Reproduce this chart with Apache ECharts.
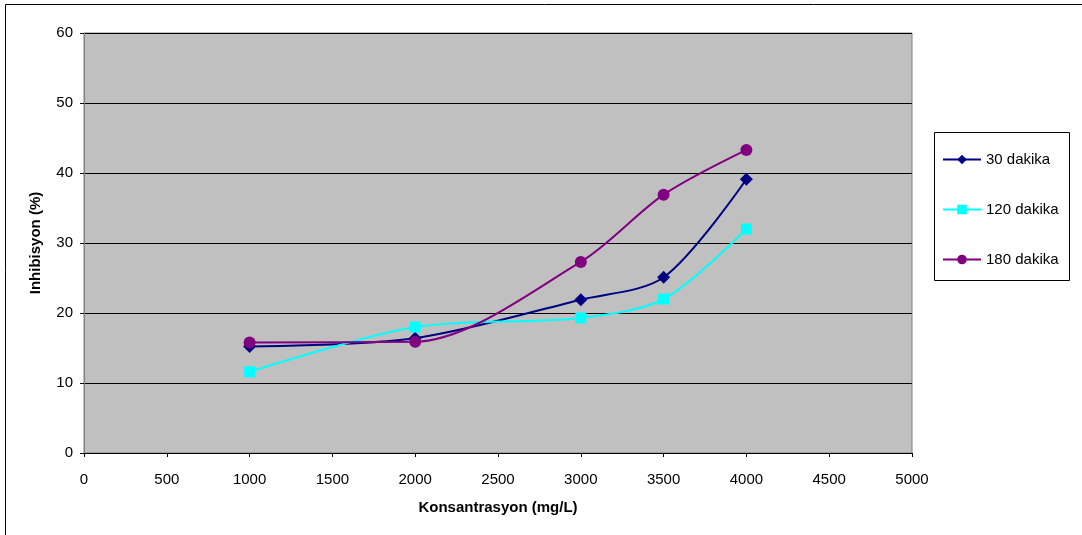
<!DOCTYPE html>
<html><head><meta charset="utf-8">
<script src="https://cdn.jsdelivr.net/npm/echarts@6/dist/echarts.min.js"></script>
<style>html,body{margin:0;padding:0;background:#fff}#c{width:1082px;height:535px}</style>
</head><body><div id="c"></div>
<script>
const xValues = [1000, 2000, 3000, 3500, 4000];
const s30 = [15.2, 16.4, 21.9, 25.1, 39.1];
const s120 = [11.6, 18.0, 19.3, 22.0, 32.0];
const s180 = [15.8, 15.9, 27.3, 36.9, 43.3];
const seriesNames = ['30 dakika', '120 dakika', '180 dakika'];
const xTitle = 'Konsantrasyon (mg/L)';
const yTitle = 'Inhibisyon (%)';

const chart = echarts.init(document.getElementById('c'));
const font = '"Liberation Sans", Arial, sans-serif';
function mk(name, data, color, symbol, size) {
  return {
    name, type: 'line', smooth: 0.3, data: xValues.map((x, i) => [x, data[i]]),
    symbol, symbolSize: size, showSymbol: true,
    lineStyle: { color, width: 2 }, itemStyle: { color },
    emphasis: { disabled: true }
  };
}
chart.setOption({
  animation: false,
  graphic: [{ type: 'rect', shape: { x: 5.5, y: 4.5, width: 1090, height: 540 }, style: { fill: 'none', stroke: '#000', lineWidth: 1 }, silent: true },
            { type: 'rect', shape: { x: 934.5, y: 132.5, width: 135, height: 148 }, style: { fill: '#fff', stroke: '#000', lineWidth: 1 }, silent: true, z: -1 }],
  grid: { left: 84, top: 33, width: 828, height: 420, show: true, backgroundColor: '#c0c0c0', borderColor: '#808080', borderWidth: 1 },
  legend: {
    orient: 'vertical', left: 937, top: 147, itemGap: 35, itemWidth: 38, itemHeight: 12,
    textStyle: { fontFamily: font, fontSize: 15, color: '#000' },
    data: seriesNames
  },
  xAxis: {
    type: 'value', min: 0, max: 5000, interval: 500,
    name: xTitle, nameLocation: 'middle', nameGap: 47,
    nameTextStyle: { fontFamily: font, fontSize: 15, fontWeight: 'bold', color: '#000' },
    axisLine: { show: true, lineStyle: { color: '#000', width: 1 } },
    axisTick: { show: true, length: 4, lineStyle: { color: '#000' } },
    axisLabel: { fontFamily: font, fontSize: 15, color: '#000', margin: 19, formatter: v => String(v) },
    splitLine: { show: false }
  },
  yAxis: {
    type: 'value', min: 0, max: 60, interval: 10,
    name: yTitle, nameLocation: 'middle', nameGap: 41, nameRotate: 90,
    nameTextStyle: { fontFamily: font, fontSize: 15, fontWeight: 'bold', color: '#000' },
    axisLine: { show: true, lineStyle: { color: '#808080', width: 1 } },
    axisTick: { show: true, length: 4, lineStyle: { color: '#000' } },
    axisLabel: { fontFamily: font, fontSize: 15, color: '#000', margin: 11 },
    splitLine: { show: true, lineStyle: { color: '#000', width: 1 } }
  },
  series: [
    mk(seriesNames[0], s30, '#000080', 'diamond', 13),
    mk(seriesNames[1], s120, '#00ffff', 'rect', 11),
    mk(seriesNames[2], s180, '#800080', 'circle', 12)
  ]
});
</script></body></html>
